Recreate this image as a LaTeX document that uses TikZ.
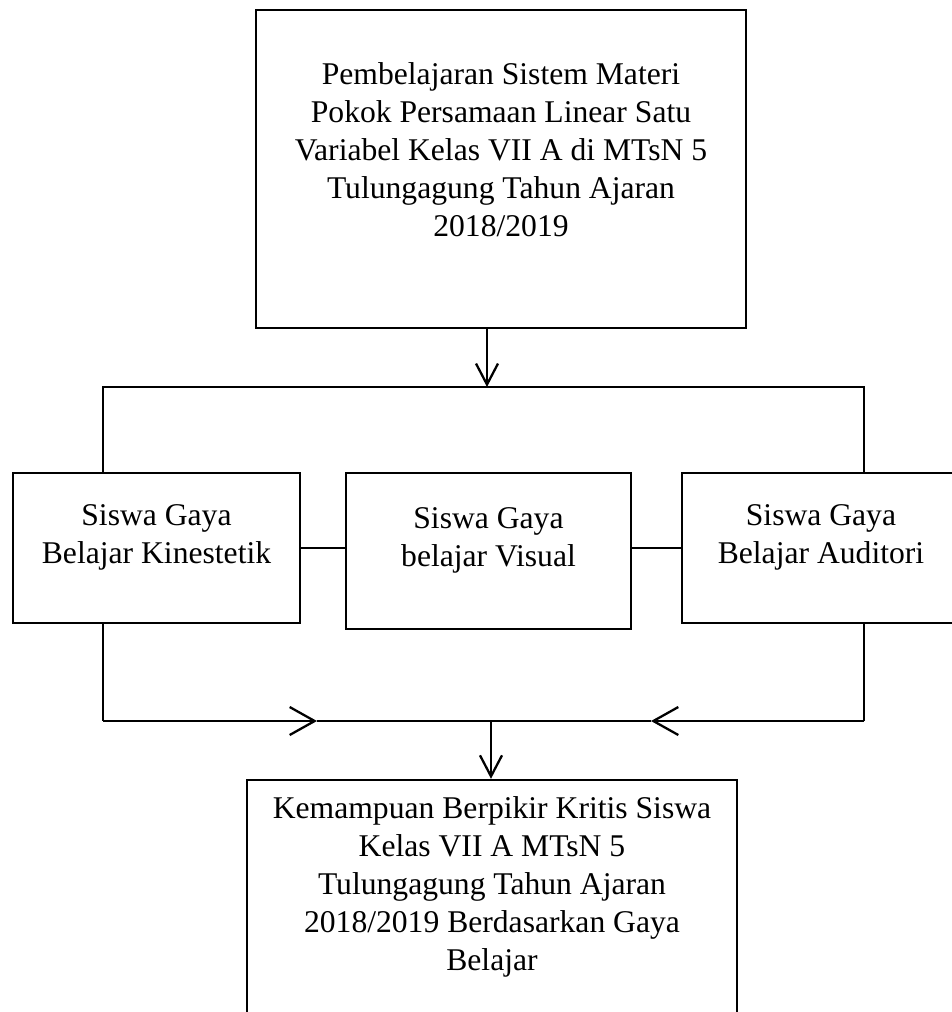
\documentclass[tikz,border=0pt]{standalone}
\usepackage{fontspec}
\setmainfont{Liberation Serif}
\usetikzlibrary{arrows.meta,positioning}
\tikzset{
    flow-box/.style = {draw=black, line width=1.4pt, rectangle, inner sep=0pt},
    flow-text/.style = {font=\fontsize{18}{21.7}\selectfont, align=center, inner sep=0pt, anchor=north},
    bus-line/.style = {draw=black, line width=1.3pt},
    link-line/.style = {draw=black, line width=0.7pt},
    down-arrow/.style = {bus-line, -{Straight Barb[length=0.42cm, width=0.44cm]}},
    side-arrow/.style = {bus-line, -{Straight Barb[length=0.5cm, width=0.56cm]}},
}

\begin{document}
\begin{tikzpicture}[x=0.02cm, y=-0.02cm]
\useasboundingbox (0,0) rectangle (952,1012);
\clip (0,0) rectangle (952,1012);
% boxes
\node [flow-box, minimum width=9.8cm, minimum height=6.36cm] (top) at (501,169) {};
\node [flow-text, below=1.06cm of top.north] (top-text) {Pembelajaran Sistem Materi\\Pokok Persamaan Linear Satu\\Variabel Kelas VII A di MTsN 5\\Tulungagung Tahun Ajaran\\2018/2019};
\node [flow-box, minimum width=5.74cm, minimum height=3cm] (kin) at (156.5,548) {};
\node [flow-text, below=0.64cm of kin.north] (kin-text) {Siswa Gaya\\Belajar Kinestetik};
\node [flow-box, minimum width=5.7cm, minimum height=3.12cm] (vis) at (488.5,551) {};
\node [flow-text, below=0.7cm of vis.north] (vis-text) {Siswa Gaya\\belajar Visual};
\node [flow-box, minimum width=5.56cm, minimum height=3cm] (aud) at (821,548) {};
\node [flow-text, below=0.64cm of aud.north] (aud-text) {Siswa Gaya\\Belajar Auditori};
\node [flow-box, minimum width=9.8cm, minimum height=5cm] (bot) at (492,905) {};
\node [flow-text, below=0.34cm of bot.north] (bot-text) {Kemampuan Berpikir Kritis Siswa\\Kelas VII A MTsN 5\\Tulungagung Tahun Ajaran\\2018/2019 Berdasarkan Gaya\\Belajar};

% upper bus
\coordinate (split) at (487,387);
\coordinate (bus-left) at (103,387);
\coordinate (bus-right) at (864,387);
\draw [down-arrow] (split |- top.south) -- (split);
\draw [bus-line] (bus-left |- kin.north) -- (bus-left) -- (bus-right) -- (bus-right |- aud.north);
\draw [link-line] (kin.east) -- (kin.east -| vis.west);
\draw [link-line] (aud.west -| vis.east) -- (aud.west);

% lower bus
\coordinate (join-left) at (103,721);
\coordinate (join-right) at (864,721);
\coordinate (tip-left) at (317,721);
\coordinate (tip-right) at (651,721);
\coordinate (merge) at (491,721);
\draw [bus-line] (join-left |- kin.south) -- (join-left);
\draw [bus-line] (join-right |- aud.south) -- (join-right);
\draw [side-arrow] (join-left) -- (tip-left);
\draw [side-arrow] (join-right) -- (tip-right);
\draw [bus-line] (tip-left) -- (tip-right);
\draw [down-arrow] (merge) -- (merge |- bot.north);
\end{tikzpicture}
\end{document}
